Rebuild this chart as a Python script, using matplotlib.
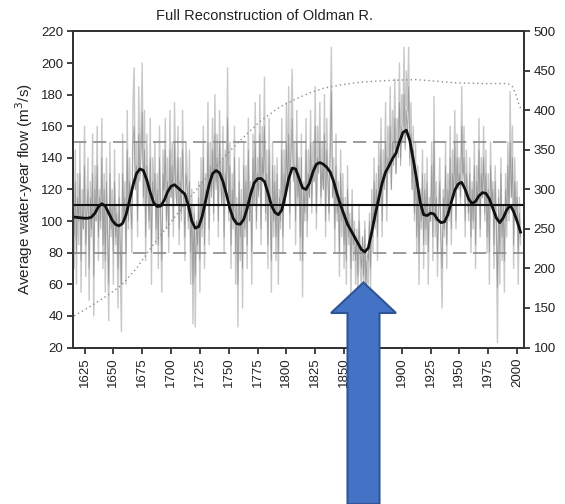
import numpy as np
import matplotlib
matplotlib.use("Agg")
import matplotlib.pyplot as plt
from matplotlib.patches import Polygon

# ---------------- data ----------------
start_year = 1616

light_flow = [
    70, 145, 60, 130, 85, 150, 55, 120, 95, 160,
    65, 110, 140, 50, 125, 90, 155, 40, 135, 100,
    160, 75, 120, 95, 165, 70, 130, 55, 140, 80,
    37, 150, 90, 120, 60, 145, 85, 110, 45, 130,
    70, 30, 155, 100, 125, 60, 170, 95, 140, 110,
    80, 175, 197, 120, 150, 90, 185, 130, 160, 200,
    110, 170, 75, 155, 120, 95, 165, 60, 140, 115,
    150, 85, 130, 70, 160, 100, 55, 145, 120, 165,
    95, 140, 80, 170, 115, 150, 90, 175, 130, 110,
    160, 85, 140, 100, 170, 120, 75, 150, 130, 95,
    145, 60, 120, 35, 110, 33, 100, 80, 125, 55,
    140, 90, 160, 70, 130, 110, 175, 85, 150, 120,
    165, 100, 180, 125, 155, 90, 170, 135, 110, 160,
    80, 145, 120, 197, 100,
    150, 70, 130, 95, 160, 60, 115, 33, 140, 75,
    120, 45, 150, 90, 135, 70, 165, 100, 125, 60,
    155, 110, 175, 95, 140, 120, 180, 85, 160, 130,
    191, 100, 145, 70, 165, 115, 55, 150, 90, 135,
    75, 140, 60, 120, 95, 165, 80, 145, 110, 175,
    120, 185, 95, 160, 196, 130, 150, 85, 170, 110,
    140, 75, 155, 52, 125, 100, 165, 90, 145, 115,
    170, 105, 150, 125, 185, 95, 160, 135, 175, 110,
    150, 120, 180, 90, 165, 130, 100, 160, 210, 115,
    140, 80, 155, 100, 125, 65, 145, 90, 130, 70,
    115, 60, 135, 85, 105, 50, 120, 75, 100, 60,
    95, 45, 110, 70, 58, 90, 55, 100, 40, 75,
    60, 105, 55, 120, 80, 140, 95, 130, 75, 150,
    110, 165, 90, 145, 125, 175, 100, 160, 135, 185,
    120, 170, 145, 190, 130, 165, 150, 200, 140, 180,
    160, 210, 150, 195, 170, 210, 140, 175, 120, 160,
    100, 150, 80, 135, 60, 120, 95, 145, 70, 130,
    85, 140, 60, 115, 100, 150, 75, 179, 90, 125,
    65, 110, 140, 80, 45, 120, 90, 150, 70, 130,
    100, 160, 85, 145, 115, 170, 95, 155, 125, 140,
    110, 185, 130, 160, 90, 145, 120, 100, 140, 80,
    125, 95, 150, 70, 135, 110, 165, 90, 140, 115,
    160, 100, 145, 80, 130, 60, 150, 110, 125, 70,
    135, 95, 23, 120, 60, 140, 75, 110, 55, 130,
    90, 150, 100, 182, 115, 160, 70, 140, 100, 125,
    60, 115, 85,
]

dark_flow = [
    90, 125, 80, 115, 100, 130, 75, 110, 95, 135,
    85, 105, 120, 70, 115, 95, 130, 65, 120, 100,
    135, 90, 115, 100, 140, 85, 120, 75, 125, 95,
    60, 130, 95, 110, 80, 125, 90, 105, 70, 115,
    85, 60, 130, 100, 115, 80, 145, 100, 125, 110,
    95, 150, 160, 120, 135, 100, 155, 125, 140, 169,
    115, 145, 90, 135, 115, 100, 140, 80, 125, 110,
    130, 95, 120, 85, 140, 105, 75, 130, 115, 145,
    100, 125, 90, 145, 115, 135, 100, 150, 120, 110,
    140, 95, 125, 105, 145, 115, 90, 130, 120, 100,
    125, 80, 110, 60, 105, 65, 100, 85, 115, 75,
    125, 95, 140, 85, 120, 110, 150, 95, 135, 115,
    145, 105, 155, 120, 140, 100, 150, 125, 110, 140,
    90, 130, 115, 165, 105,
    135, 85, 120, 100, 140, 80, 110, 60, 125, 90,
    110, 70, 135, 95, 125, 85, 145, 100, 120, 80,
    140, 110, 150, 100, 130, 115, 155, 95, 140, 125,
    160, 105, 130, 85, 145, 110, 75, 135, 100, 125,
    90, 130, 80, 115, 100, 145, 90, 130, 110, 150,
    120, 155, 105, 140, 165, 125, 135, 100, 150, 115,
    130, 90, 140, 75, 120, 105, 145, 100, 130, 115,
    150, 110, 135, 125, 160, 105, 140, 130, 150, 115,
    135, 120, 155, 100, 145, 125, 105, 140, 182, 115,
    125, 95, 135, 105, 115, 80, 130, 100, 115, 85,
    105, 75, 120, 90, 100, 70, 110, 85, 95, 75,
    90, 65, 100, 80, 70, 90, 65, 95, 60, 80,
    75, 100, 70, 110, 90, 125, 100, 120, 90, 135,
    110, 145, 100, 130, 120, 150, 110, 140, 130, 160,
    120, 150, 135, 165, 130, 150, 140, 175, 135, 160,
    150, 180, 145, 170, 155, 185, 135, 155, 120, 145,
    105, 135, 90, 125, 80, 115, 100, 130, 85, 120,
    95, 125, 80, 110, 100, 135, 90, 150, 100, 115,
    80, 105, 125, 90, 70, 115, 95, 135, 85, 120,
    105, 140, 95, 130, 115, 150, 100, 140, 120, 130,
    115, 160, 125, 140, 100, 130, 115, 105, 130, 90,
    120, 100, 135, 85, 125, 110, 145, 95, 130, 115,
    140, 105, 130, 90, 120, 80, 135, 110, 120, 85,
    125, 100, 58, 115, 80, 130, 90, 110, 75, 120,
    100, 135, 105, 150, 115, 140, 85, 125, 105, 115,
    80, 105, 90,
]

smooth_step = 3
smooth_flow = [
    102.5, 102.3, 102, 101.8, 101.8, 102.5, 105, 109, 111, 109.5,
    105, 100.5, 97.8, 97, 98.5, 104, 113, 122.5, 130, 133,
    132, 126, 118, 111.5, 109.2, 109.5, 113, 118.5, 122, 123,
    121, 119, 117, 110, 100, 95.5, 96.5, 103, 113, 123,
    130, 132, 130.5, 125, 117, 108, 101.5, 98.3, 98, 101,
    108, 117, 124, 126.8, 127, 125, 118, 110, 105.5, 104,
    107, 116, 127, 133.5, 133, 127, 121, 120, 124, 131,
    136, 137, 136, 134, 131, 125, 117, 110, 104, 98,
    94, 90, 86, 82, 80.5, 83, 93, 104, 114, 124,
    131, 135, 139.5, 143, 150, 156, 157.5, 151, 139, 126,
    112, 104, 103.5, 105, 104.5, 101, 99, 99.5, 104, 112,
    119.5, 123.5, 124.5, 120, 114, 111, 112.5, 116, 118, 117.5,
    114, 108, 102, 99, 102, 107, 110, 106, 100, 93,
]

depth_years = [1616, 1630, 1645, 1657, 1670, 1683, 1700, 1717, 1730, 1746,
               1760, 1777, 1795, 1809, 1820, 1832, 1850, 1866, 1890, 1912,
               1930, 1946, 1970, 1992, 1996, 1999, 2001, 2003]
depth_vals = [140, 152, 166, 179, 200, 227, 259, 291, 314, 341,
              362, 386, 405, 415, 422, 428, 433, 436, 438, 439,
              437, 435, 434, 434, 430, 420, 410, 403]

mean_flow = 110
upper_flow = 150
lower_flow = 80

x_ticks = [1625, 1650, 1675, 1700, 1725, 1750, 1775, 1800, 1825, 1850,
           1875, 1900, 1925, 1950, 1975, 2000]
left_ticks = [20, 40, 60, 80, 100, 120, 140, 160, 180, 200, 220]
right_ticks = [100, 150, 200, 250, 300, 350, 400, 450, 500]

title = "Full Reconstruction of Oldman R."
ylabel = "Average water-year flow (m$^3$/s)"

# ---------------- plot ----------------
plt.rcParams['font.family'] = ['Liberation Sans', 'DejaVu Sans']

W, H = 565, 504
fig = plt.figure(figsize=(W / 100, H / 100), dpi=100)
ax = fig.add_axes([73 / W, 1 - 347.5 / H, (524 - 73) / W, (347.5 - 31.4) / H])
ax2 = ax.twinx()

years_light = np.arange(start_year, start_year + len(light_flow))
years_dark = np.arange(start_year, start_year + len(dark_flow))
years_smooth = np.arange(start_year, start_year + smooth_step * len(smooth_flow), smooth_step)

ax.plot(years_light, light_flow, color='#c8c8c8', lw=1.0, zorder=1)
ax.plot(years_dark, dark_flow, color='#8a8a8a', lw=0.6, alpha=0.75, zorder=2)
ax.axhline(upper_flow, color='#8a8a8a', lw=1.2, dashes=(8, 4), zorder=3)
ax.axhline(lower_flow, color='#8a8a8a', lw=1.2, dashes=(8, 4), zorder=3)
ax.axhline(mean_flow, color='#111111', lw=1.5, zorder=4)
ax.plot(years_smooth, smooth_flow, color='#111111', lw=2.0, zorder=5)
ax2.plot(depth_years, depth_vals, color='#909090', lw=1.0, ls=(0, (1, 2.2)), zorder=2)

ax.set_xlim(1615, 2006)
ax.set_ylim(20, 220)
ax2.set_ylim(100, 500)
ax.set_xticks(x_ticks)
ax.set_xticklabels([str(v) for v in x_ticks], rotation=90, fontsize=9.5, color='#222222')
ax.set_yticks(left_ticks)
ax.set_yticklabels([str(v) for v in left_ticks], fontsize=9.5, color='#222222')
ax2.set_yticks(right_ticks)
ax2.set_yticklabels([str(v) for v in right_ticks], fontsize=9.5, color='#222222')

for a in (ax, ax2):
    a.tick_params(direction='out', length=4, width=1.2, colors='#222222', pad=3)
    for s in a.spines.values():
        s.set_color('#333333')
        s.set_linewidth(1.3)

ax.set_ylabel(ylabel, fontsize=11, color='#222222', labelpad=4)
fig.text(265 / W, 1 - 16 / H, title, ha='center', va='center', fontsize=10.5, color='#222222')

# blue arrow annotation (figure pixels -> fraction)
pts_px = [(347.5, 504), (347.5, 313), (331, 313), (363.5, 282.5),
          (396, 313), (379.5, 313), (379.5, 504)]
pts = [(x / W, 1 - y / H) for x, y in pts_px]
fig.patches.append(Polygon(pts, closed=True, transform=fig.transFigure,
                           facecolor='#4472C4', edgecolor='#2F5597', lw=1.5, zorder=10))

fig.savefig('out.png', dpi=100)
